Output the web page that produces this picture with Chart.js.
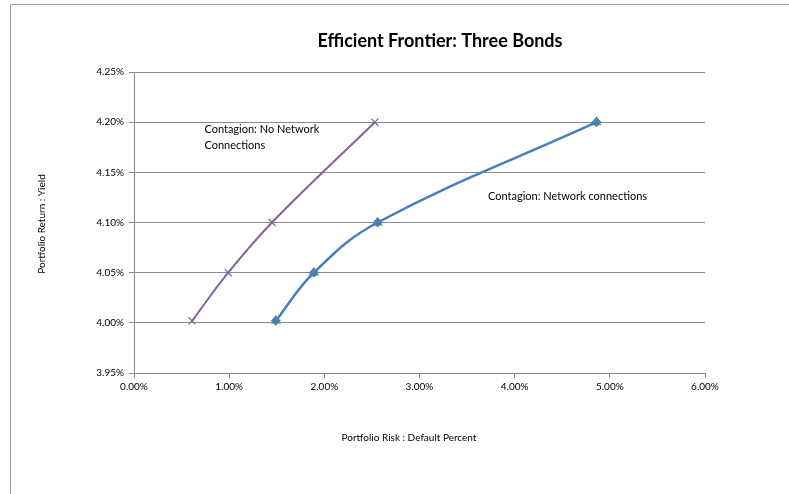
<!DOCTYPE html>
<html>
<head>
<meta charset="utf-8">
<script src="https://cdn.jsdelivr.net/npm/chart.js@4/dist/chart.umd.min.js"></script>
<style>
  html, body { margin: 0; padding: 0; background: #fff; }
  #wrap { position: relative; width: 789px; height: 494px; }
</style>
</head>
<body>
<div id="wrap"><canvas id="c" width="789" height="494"></canvas></div>
<script>
// Efficient frontier points: risk (default %) vs return (yield %)
const noNetworkRisk   = [0.61, 0.99, 1.45, 2.53];
const noNetworkYield  = [4.002, 4.05, 4.10, 4.20];
const networkRisk     = [1.49, 1.89, 2.56, 4.86];
const networkYield    = [4.002, 4.05, 4.10, 4.20];

const titleText   = 'Efficient Frontier: Three Bonds';
const xTitleText  = 'Portfolio Risk : Default Percent';
const yTitleText  = 'Portfolio Return : Yield';
const noNetLabel  = ['Contagion: No Network', 'Connections'];
const netLabel    = ['Contagion: Network connections'];

const FONT = 'Lato, "Open Sans", "Liberation Sans", sans-serif';

function toPoints(xs, ys) { return xs.map((x, i) => ({ x: x, y: ys[i] })); }

// Frame, title, axis titles and in-plot captions
const decorations = {
  id: 'decorations',
  beforeDraw(chart) {
    const ctx = chart.ctx;
    ctx.save();
    ctx.fillStyle = '#fff';
    ctx.fillRect(0, 0, chart.width, chart.height);
    ctx.strokeStyle = '#a0a0a0';
    ctx.lineWidth = 1;
    ctx.beginPath();
    ctx.moveTo(10.5, chart.height);
    ctx.lineTo(10.5, 4.5);
    ctx.lineTo(chart.width, 4.5);
    ctx.stroke();
    ctx.restore();
  },
  afterDraw(chart) {
    const ctx = chart.ctx;
    const xs = chart.scales.x, ys = chart.scales.y;
    ctx.save();
    ctx.fillStyle = '#000';
    ctx.textBaseline = 'middle';

    ctx.font = 'bold 18px ' + FONT;
    ctx.textAlign = 'center';
    ctx.fillText(titleText, 440, 41);

    ctx.font = '10px ' + FONT;
    ctx.fillText(xTitleText, 409, 438);

    ctx.save();
    ctx.translate(42, 224);
    ctx.rotate(-Math.PI / 2);
    ctx.fillText(yTitleText, 0, 0);
    ctx.restore();

    ctx.font = '11px ' + FONT;
    ctx.textAlign = 'left';
    const ax = xs.getPixelForValue(0.74), ay = ys.getPixelForValue(4.193);
    noNetLabel.forEach((t, i) => ctx.fillText(t, ax, ay + i * 16));
    const bx = xs.getPixelForValue(3.72), by = ys.getPixelForValue(4.126);
    netLabel.forEach((t, i) => ctx.fillText(t, bx, by + i * 16));
    ctx.restore();
  }
};

const gridGray = '#8a8a8a';

new Chart(document.getElementById('c'), {
  type: 'scatter',
  data: {
    datasets: [
      {
        label: 'Contagion: No Network Connections',
        data: toPoints(noNetworkRisk, noNetworkYield),
        showLine: true,
        tension: 0.4,
        borderColor: '#8064A2',
        backgroundColor: '#8064A2',
        borderWidth: 2,
        pointStyle: 'crossRot',
        pointRadius: 5,
        pointBorderWidth: 1.2,
        order: 1
      },
      {
        label: 'Contagion: Network connections',
        data: toPoints(networkRisk, networkYield),
        showLine: true,
        tension: 0.4,
        borderColor: '#4A7EBB',
        backgroundColor: '#4A7EBB',
        borderWidth: 2.5,
        pointStyle: 'rectRot',
        pointRadius: 4.5,
        pointBorderWidth: 1,
        order: 2
      },
      {
        label: 'Frontier points',
        data: toPoints(networkRisk, networkYield),
        showLine: false,
        borderColor: '#9BBB59',
        backgroundColor: '#9BBB59',
        pointStyle: 'triangle',
        pointRadius: 5.5,
        pointBorderWidth: 1,
        order: 3
      }
    ]
  },
  options: {
    responsive: false,
    animation: false,
    events: [],
    layout: { padding: { left: 0, top: 72, right: 84, bottom: 0 } },
    plugins: {
      legend: { display: false },
      title: { display: false },
      tooltip: { enabled: false }
    },
    scales: {
      x: {
        type: 'linear',
        min: 0, max: 6,
        afterFit(scale) { scale.height = 121; },
        ticks: {
          stepSize: 1,
          color: '#000',
          font: { family: FONT, size: 10 },
          padding: 3,
          maxRotation: 0,
          callback: v => v.toFixed(2) + '%'
        },
        grid: { drawOnChartArea: false, drawTicks: true, tickLength: 5, color: gridGray },
        border: { display: true, color: gridGray, width: 1 }
      },
      y: {
        type: 'linear',
        min: 3.95, max: 4.25,
        afterFit(scale) { scale.width = 134; },
        ticks: {
          stepSize: 0.05,
          color: '#000',
          font: { family: FONT, size: 10 },
          padding: 5,
          callback: v => v.toFixed(2) + '%'
        },
        grid: { drawOnChartArea: true, drawTicks: true, tickLength: 5, color: gridGray },
        border: { display: true, color: gridGray, width: 1 }
      }
    }
  },
  plugins: [decorations]
});
</script>
</body>
</html>
